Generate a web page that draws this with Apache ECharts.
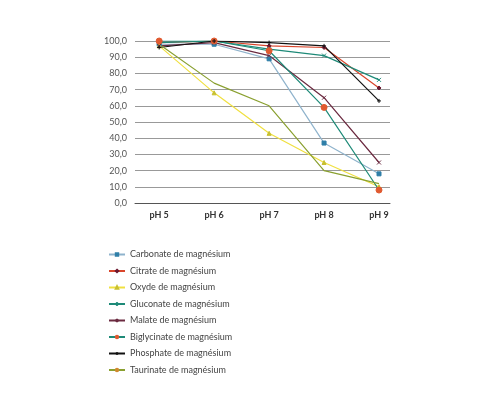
<!DOCTYPE html><html><head><meta charset="utf-8"><script src="https://cdn.jsdelivr.net/npm/echarts@6/dist/echarts.min.js"></script></head><body style="margin:0"><div id="c" style="width:500px;height:400px"></div><script>
const categories=[5,6,7,8,9];
const names=["Carbonate de magnésium","Citrate de magnésium","Oxyde de magnésium","Gluconate de magnésium","Malate de magnésium","Biglycinate de magnésium","Phosphate de magnésium","Taurinate de magnésium"];
const carbonate=[98,98,89,37,18];
const citrate=[99,100,97,96,71];
const oxyde=[97,68,43,25,10];
const gluconate=[99,100,95,91,76];
const malate=[97,99,91,65,25];
const biglycinate=[100,100,94,59,8];
const phosphate=[96,100,99,97,63];
const taurinate=[98,74,60,20,12];
const yTicks=[0,10,20,30,40,50,60,70,80,90,100];
const vals=[carbonate,citrate,oxyde,gluconate,malate,biglycinate,phosphate,taurinate];
const lineC=['#8fb3cc','#d9452b','#f0e040','#1e8a78','#6b2a40','#1e8a78','#111111','#8aa030'];
const markC=['#2f7fa8','#6b1830','#c8c030','#1e8a78','#6b2a40','#e05a30','#111111','#d08a30'];
const sym=['rect','diamond','triangle','path://M0,0L10,10M10,0L0,10','path://M0,0L10,10M10,0L0,10','circle','path://M0,5L10,5M5,0L5,10','none'];
const series=vals.map((v,i)=>({name:names[i],type:'line',data:v.map((y,j)=>[categories[j],y]),symbol:sym[i],symbolSize:i==5?6:4,
 lineStyle:{color:lineC[i],width:1.2},itemStyle:{color:markC[i],borderColor:markC[i],borderWidth:1}}));
echarts.init(document.getElementById('c')).setOption({animation:false,
 grid:{left:135,right:110,top:41,bottom:197},
 xAxis:{type:'value',min:4.56,max:9.2,axisLabel:{customValues:categories,formatter:v=>'pH '+v,fontSize:9,fontWeight:'bold',color:'#333',fontFamily:'Lato'},
  axisTick:{show:false},splitLine:{show:false},axisLine:{lineStyle:{color:'#555'}}},
 yAxis:{type:'value',min:0,max:100,interval:10,axisLabel:{formatter:v=>v.toFixed(1).replace('.',','),fontSize:9,color:'#555',fontFamily:'Lato'},
  splitLine:{lineStyle:{color:'#999'}},axisLine:{show:false},axisTick:{show:false}},
 legend:{orient:'vertical',left:103,top:245,itemGap:7.5,itemWidth:16,itemHeight:3,textStyle:{fontSize:9,color:'#444',fontFamily:'Lato'}},
 series});
</script></body></html>
